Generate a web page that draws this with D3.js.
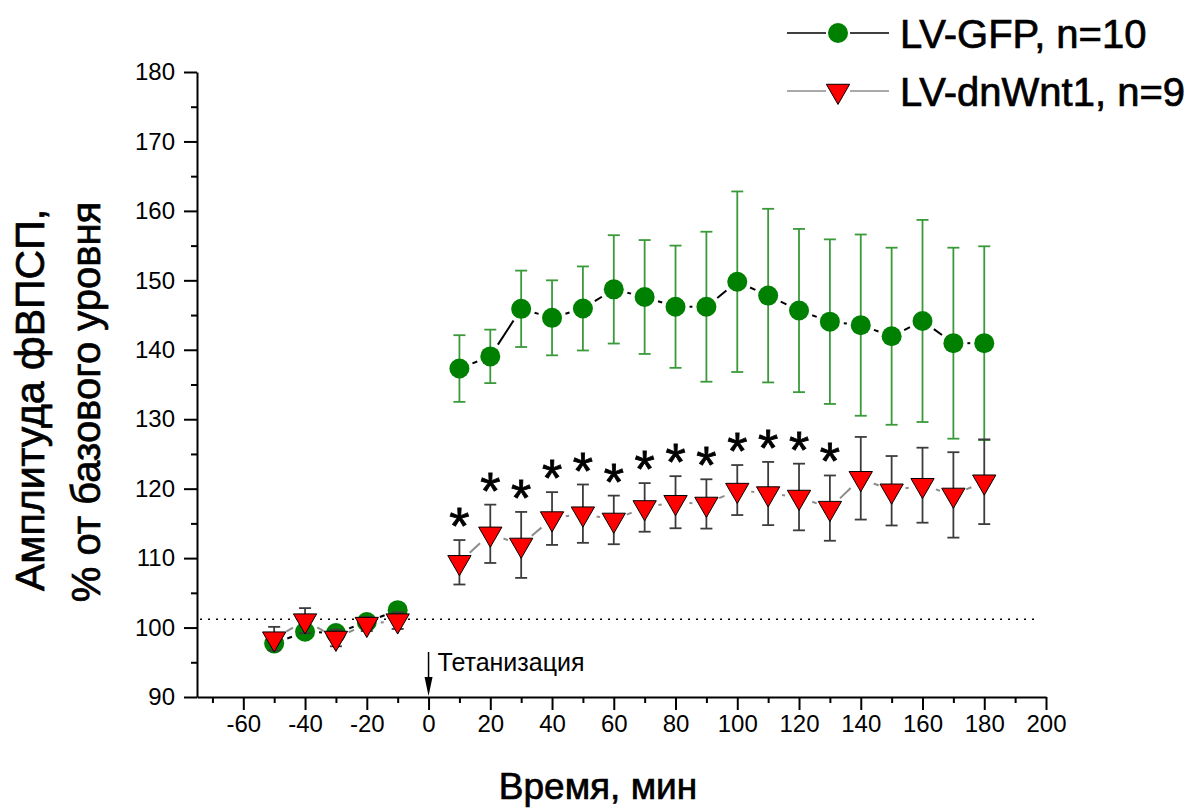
<!DOCTYPE html>
<html>
<head>
<meta charset="utf-8">
<script src="https://cdn.jsdelivr.net/npm/d3@7"></script>
<style>
  body { margin: 0; background: #fff; }
  svg { display: block; font-family: "Liberation Sans", Arial, sans-serif; }
</style>
</head>
<body>
<svg id="chart" width="1189" height="808"></svg>
<script>
const times = [-50, -40, -30, -20, -10, 10, 20, 30, 40, 50, 60, 70, 80, 90, 100, 110, 120, 130, 140, 150, 160, 170, 180];

const gfpMean = [97.7, 99.4, 99.2, 100.8, 102.5, 137.3, 139.05, 145.9, 144.6, 145.95, 148.7, 147.6, 146.2, 146.2, 149.8, 147.8, 145.65, 144.05, 143.55, 141.95, 144.15, 140.95, 140.95];
const gfpSem = [0.8, 0.8, 0.7, 0.7, 0.8, 4.8, 3.85, 5.5, 5.4, 6.05, 7.8, 8.2, 8.8, 10.8, 13.0, 12.5, 11.75, 11.85, 13.05, 12.75, 14.55, 13.75, 13.95];

const wntMean = [98.4, 101.0, 98.5, 100.5, 101.0, 109.4, 113.5, 111.9, 115.7, 116.4, 115.5, 117.3, 118.05, 117.8, 119.8, 119.3, 118.8, 117.2, 121.5, 119.7, 120.5, 119.1, 121.0];
const wntSem = [1.7, 1.8, 1.2, 1.0, 1.2, 3.2, 4.2, 4.75, 3.8, 4.2, 3.5, 3.5, 3.75, 3.55, 3.6, 4.55, 4.8, 4.7, 5.95, 5.0, 5.4, 6.15, 6.1];

// time points marked as significant
const starTimes = [10, 20, 30, 40, 50, 60, 70, 80, 90, 100, 110, 120, 130];

const xMajor = d3.range(-60, 201, 20);
const xMinor = d3.range(-70, 200, 20);
const yMajor = d3.range(90, 181, 10);
const yMinor = d3.range(95, 180, 10);

const BASELINE = 101.2;
const legendLabels = ["LV-GFP, n=10", "LV-dnWnt1, n=9"];

const GREEN = "#008000";
const GREEN_BAR = "#3a9a3a";
const GAP = 14;

const svg = d3.select("#chart");

const x = d3.scaleLinear().domain([-75, 200]).range([197, 1046]);
const y = d3.scaleLinear().domain([90, 180]).range([697, 72]);

const gfp = times.map((t, i) => ({ t, m: gfpMean[i], e: gfpSem[i] }));
const wnt = times.map((t, i) => ({ t, m: wntMean[i], e: wntSem[i] }));

// heavier look for the big labels
function heavy(sel, w) {
  sel.attr("stroke", "#000").attr("stroke-width", w).attr("paint-order", "stroke fill");
}

// dotted baseline
svg.append("line")
  .attr("x1", 200).attr("x2", x(197))
  .attr("y1", y(BASELINE)).attr("y2", y(BASELINE))
  .attr("stroke", "#000").attr("stroke-width", 1.5)
  .attr("stroke-dasharray", "2,6");

// axes
function styleAxis(g) {
  g.select(".domain").attr("stroke-width", 2);
  g.selectAll(".tick line").attr("stroke-width", 2);
  g.selectAll("text").style("font-size", "24px").attr("fill", "#000");
}

svg.append("g")
  .attr("transform", `translate(0,${y(90)})`)
  .call(d3.axisBottom(x).tickValues(xMinor).tickSize(6).tickFormat(""))
  .call(g => g.select(".domain").remove())
  .call(g => g.selectAll(".tick line").attr("stroke-width", 2));

svg.append("g")
  .attr("transform", `translate(0,${y(90)})`)
  .call(d3.axisBottom(x).tickValues(xMajor).tickSize(13).tickSizeOuter(0).tickPadding(5).tickFormat(d3.format("d")))
  .call(styleAxis)
  .call(g => g.selectAll("text").text(d => d < 0 ? "-" + Math.abs(d) : d));

svg.append("g")
  .attr("transform", `translate(${x(-75)},0)`)
  .call(d3.axisLeft(y).tickValues(yMinor).tickSize(6).tickFormat(""))
  .call(g => g.select(".domain").remove())
  .call(g => g.selectAll(".tick line").attr("stroke-width", 2));

svg.append("g")
  .attr("transform", `translate(${x(-75)},0)`)
  .call(d3.axisLeft(y).tickValues(yMajor).tickSize(13).tickSizeOuter(0).tickPadding(9))
  .call(styleAxis);

// axis titles
svg.append("text")
  .attr("transform", "translate(44,400) rotate(-90)")
  .attr("text-anchor", "middle")
  .style("font-size", "41px")
  .call(heavy, 0.7)
  .text("Амплитуда фВПСП,");
svg.append("text")
  .attr("transform", "translate(100,402) rotate(-90)")
  .attr("text-anchor", "middle")
  .style("font-size", "40px")
  .call(heavy, 0.7)
  .text("% от базового уровня");
svg.append("text")
  .attr("x", 598).attr("y", 799)
  .attr("text-anchor", "middle")
  .style("font-size", "37px")
  .call(heavy, 0.7)
  .text("Время, мин");

// tetanization arrow
svg.append("line")
  .attr("x1", x(0)).attr("x2", x(0))
  .attr("y1", 652).attr("y2", 680)
  .attr("stroke", "#000").attr("stroke-width", 1.5);
svg.append("path")
  .attr("d", `M${x(0) - 4},677 L${x(0) + 4},677 L${x(0)},696 Z`)
  .attr("fill", "#000");
svg.append("text")
  .attr("x", x(0) + 9).attr("y", 671)
  .style("font-size", "25px")
  .text("Тетанизация");

// error bars
function errorBars(data, color, width, cap) {
  const g = svg.append("g").attr("stroke", color).attr("stroke-width", width);
  g.selectAll(".v").data(data).join("line")
    .attr("x1", d => x(d.t)).attr("x2", d => x(d.t))
    .attr("y1", d => y(d.m - d.e)).attr("y2", d => y(d.m + d.e));
  g.selectAll(".top").data(data).join("line")
    .attr("x1", d => x(d.t) - cap).attr("x2", d => x(d.t) + cap)
    .attr("y1", d => y(d.m + d.e)).attr("y2", d => y(d.m + d.e));
  g.selectAll(".bot").data(data).join("line")
    .attr("x1", d => x(d.t) - cap).attr("x2", d => x(d.t) + cap)
    .attr("y1", d => y(d.m - d.e)).attr("y2", d => y(d.m - d.e));
}

// connecting line with gaps around each symbol, broken across t = 0
function gappedLine(data, color, width) {
  const segs = [];
  for (let i = 1; i < data.length; i++) {
    const a = data[i - 1], b = data[i];
    if (a.t < 0 && b.t > 0) continue;
    const x1 = x(a.t), y1 = y(a.m), x2 = x(b.t), y2 = y(b.m);
    const len = Math.hypot(x2 - x1, y2 - y1);
    if (len <= 2 * GAP + 1) continue;
    const ux = (x2 - x1) / len, uy = (y2 - y1) / len;
    segs.push([x1 + ux * GAP, y1 + uy * GAP, x2 - ux * GAP, y2 - uy * GAP]);
  }
  svg.append("g").selectAll("line").data(segs).join("line")
    .attr("x1", d => d[0]).attr("y1", d => d[1])
    .attr("x2", d => d[2]).attr("y2", d => d[3])
    .attr("stroke", color).attr("stroke-width", width);
}

const triangle = d3.symbol().type(d3.symbolTriangle).size(235);

errorBars(gfp, GREEN_BAR, 1.8, 6);
gappedLine(gfp, "#000", 2);
svg.append("g").selectAll("circle").data(gfp).join("circle")
  .attr("cx", d => x(d.t)).attr("cy", d => y(d.m))
  .attr("r", 10).attr("fill", GREEN);

errorBars(wnt, "#3c3c3c", 1.8, 6);
gappedLine(wnt, "#8c8c8c", 2);
svg.append("g").selectAll("path").data(wnt).join("path")
  .attr("d", triangle)
  .attr("transform", d => `translate(${x(d.t)},${y(d.m)}) rotate(180)`)
  .attr("fill", "#ff0000").attr("stroke", "#000").attr("stroke-width", 1);

// significance asterisks
svg.append("g").selectAll("text").data(wnt.filter(d => starTimes.includes(d.t))).join("text")
  .attr("x", d => x(d.t)).attr("y", d => y(d.m + d.e) + 4)
  .attr("text-anchor", "middle")
  .style("font-size", "52px")
  .call(heavy, 0.8)
  .text("*");

// legend
const legend = svg.append("g");
const rows = [
  { y: 33, color: "#000" },
  { y: 91, color: "#8c8c8c" }
];
rows.forEach((r, i) => {
  legend.append("line").attr("x1", 787).attr("x2", 826).attr("y1", r.y).attr("y2", r.y)
    .attr("stroke", r.color).attr("stroke-width", 1.5);
  legend.append("line").attr("x1", 850).attr("x2", 889).attr("y1", r.y).attr("y2", r.y)
    .attr("stroke", r.color).attr("stroke-width", 1.5);
  if (i === 0) {
    legend.append("circle").attr("cx", 838).attr("cy", r.y).attr("r", 10).attr("fill", GREEN);
  } else {
    legend.append("path").attr("d", triangle)
      .attr("transform", `translate(838,${r.y}) rotate(180)`)
      .attr("fill", "#ff0000").attr("stroke", "#000").attr("stroke-width", 1);
  }
  legend.append("text").attr("x", 900).attr("y", r.y + 15)
    .style("font-size", "40px")
    .call(heavy, 0.7)
    .text(legendLabels[i]);
});
</script>
</body>
</html>
